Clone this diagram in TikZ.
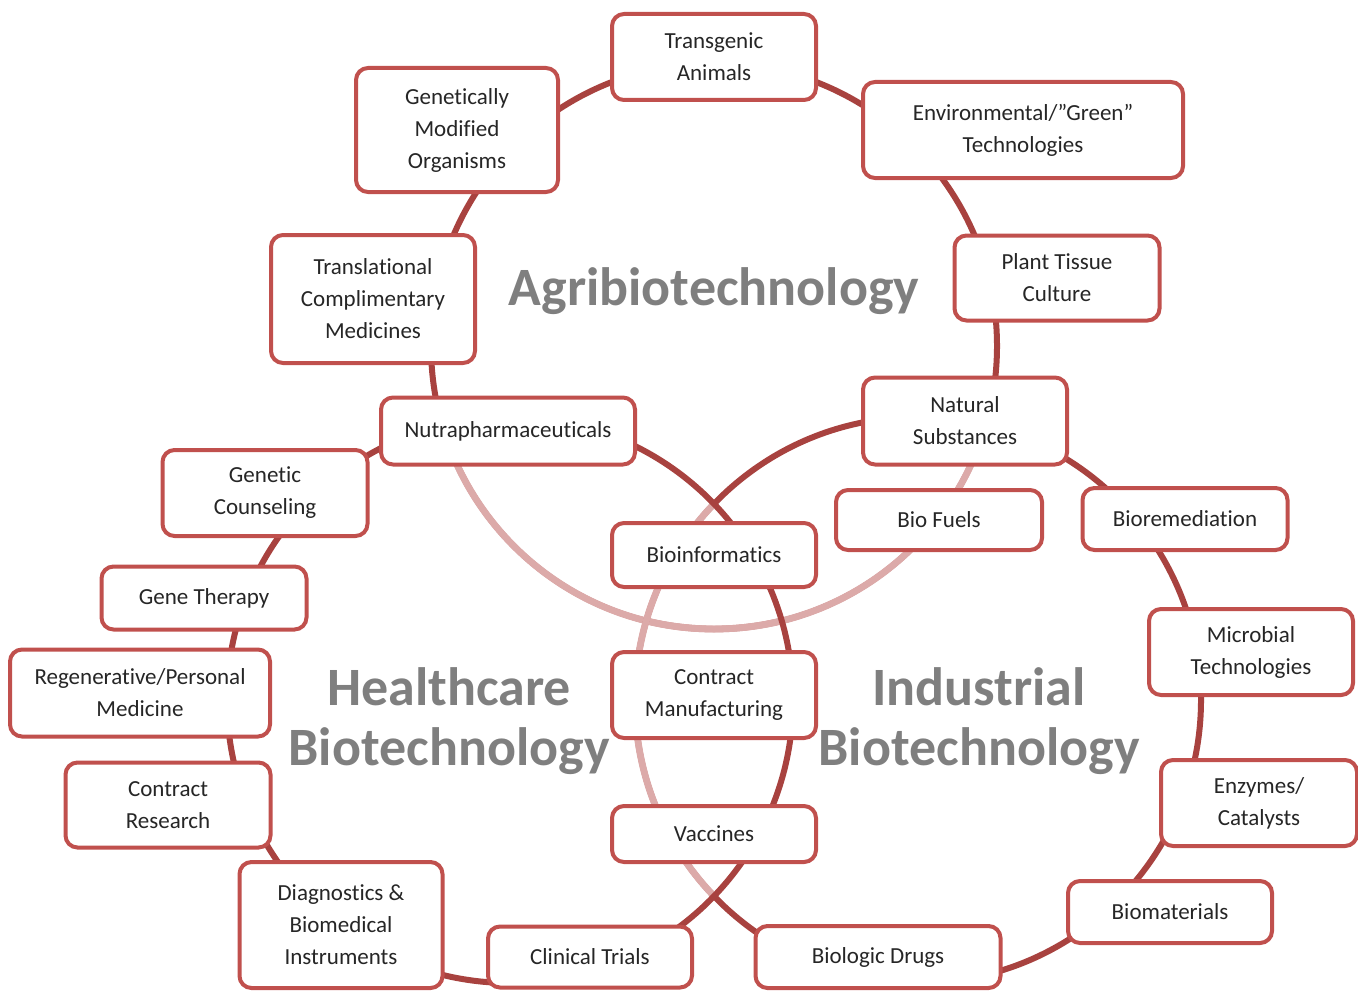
\documentclass[tikz,border=0pt]{standalone}
\usepackage{fontspec}
\setmainfont{Carlito}[Ligatures=CommonOff]
\definecolor{ringred}{HTML}{A8423F}
\definecolor{ringfade}{HTML}{DCAAA9}
\definecolor{boxred}{HTML}{C0504D}
\definecolor{inkgray}{HTML}{262626}
\definecolor{fieldgray}{HTML}{7F7F7F}

\begin{document}
\begin{tikzpicture}[
  x = 0.5pt, y = -0.5pt,
  ring/.style = {draw = ringred, line width = 3pt},
  faded ring/.style = {draw = ringfade, line width = 3.4pt},
  topic/.style = {draw = boxred, line width = 2pt, fill = white,
    rounded corners = 6pt, align = center, text = inkgray,
    inner sep = 0pt, font = \fontsize{11.5}{16}\selectfont},
  field/.style = {text = fieldgray, align = center,
    font = \fontsize{27}{30}\selectfont\bfseries}
  ]
  \useasboundingbox (0,0) rectangle (1358,990);

  % the three rings
  \coordinate (agri) at (714,346);
  \coordinate (health) at (510,700);
  \coordinate (indus) at (918,700);

  \draw[ring] (agri) circle (141.5pt);
  \begin{scope}
    \clip (health) circle (141.5pt);
    \draw[faded ring] (agri) circle (141.5pt);
  \end{scope}
  \begin{scope}
    \clip (indus) circle (141.5pt);
    \draw[faded ring] (agri) circle (141.5pt);
  \end{scope}
  \draw[ring] (indus) circle (141.5pt);
  \begin{scope}
    \clip (health) circle (141.5pt);
    \draw[faded ring] (indus) circle (141.5pt);
  \end{scope}
  \draw[ring] (health) circle (141.5pt);

  \node[field] (agrilabel) at (714,291) {Agribiotechnology};
  \node[field] (healthlabel) at (449,721) {Healthcare\\Biotechnology};
  \node[field] (induslabel) at (979,721) {Industrial\\Biotechnology};

  % boxes on the rings
  \node[topic, minimum width=102pt, minimum height=43pt] (transgenic) at (714,57) {Transgenic\\Animals};
  \node[topic, minimum width=101pt, minimum height=62pt] (gmo) at (457,130) {Genetically\\Modified\\Organisms};
  \node[topic, minimum width=160pt, minimum height=48pt] (green) at (1023,130) {Environmental/”Green”\\Technologies};
  \node[topic, minimum width=102pt, minimum height=64pt] (tcm) at (373,299) {Translational\\Complimentary\\Medicines};
  \node[topic, minimum width=102.5pt, minimum height=42.5pt] (tissue) at (1057,278) {Plant Tissue\\Culture};
  \node[topic, minimum width=127pt, minimum height=33.5pt] (nutra) at (508,431) {Nutrapharmaceuticals};
  \node[topic, minimum width=102pt, minimum height=43.5pt] (natural) at (965,421) {Natural\\Substances};
  \node[topic, minimum width=102.5pt, minimum height=43pt] (counsel) at (265,493) {Genetic\\Counseling};
  \node[topic, minimum width=103pt, minimum height=30pt] (biofuel) at (939,520) {Bio Fuels};
  \node[topic, minimum width=102.5pt, minimum height=31pt] (bioremed) at (1185,519) {Bioremediation};
  \node[topic, minimum width=102pt, minimum height=32pt] (bioinfo) at (714,555) {Bioinformatics};
  \node[topic, minimum width=102.5pt, minimum height=31.5pt] (genether) at (204,598) {Gene Therapy};
  \node[topic, minimum width=102pt, minimum height=43pt] (microbial) at (1251,652) {Microbial\\Technologies};
  \node[topic, minimum width=130pt, minimum height=43.5pt] (regen) at (140,693) {Regenerative/Personal\\Medicine};
  \node[topic, minimum width=102pt, minimum height=43pt] (contman) at (714,695) {Contract\\Manufacturing};
  \node[topic, minimum width=98pt, minimum height=43pt] (enzymes) at (1259,803) {Enzymes/\\Catalysts};
  \node[topic, minimum width=102.5pt, minimum height=42.5pt] (contres) at (168,805) {Contract\\Research};
  \node[topic, minimum width=102pt, minimum height=28pt] (vaccines) at (714,834) {Vaccines};
  \node[topic, minimum width=101.5pt, minimum height=63pt] (diag) at (341,925) {Diagnostics \&\\Biomedical\\Instruments};
  \node[topic, minimum width=102pt, minimum height=31pt] (biomat) at (1170,912) {Biomaterials};
  \node[topic, minimum width=102pt, minimum height=30.5pt] (clinical) at (590,957) {Clinical Trials};
  \node[topic, minimum width=122.5pt, minimum height=31pt] (biodrugs) at (878,957) {Biologic Drugs};
\end{tikzpicture}
\end{document}
